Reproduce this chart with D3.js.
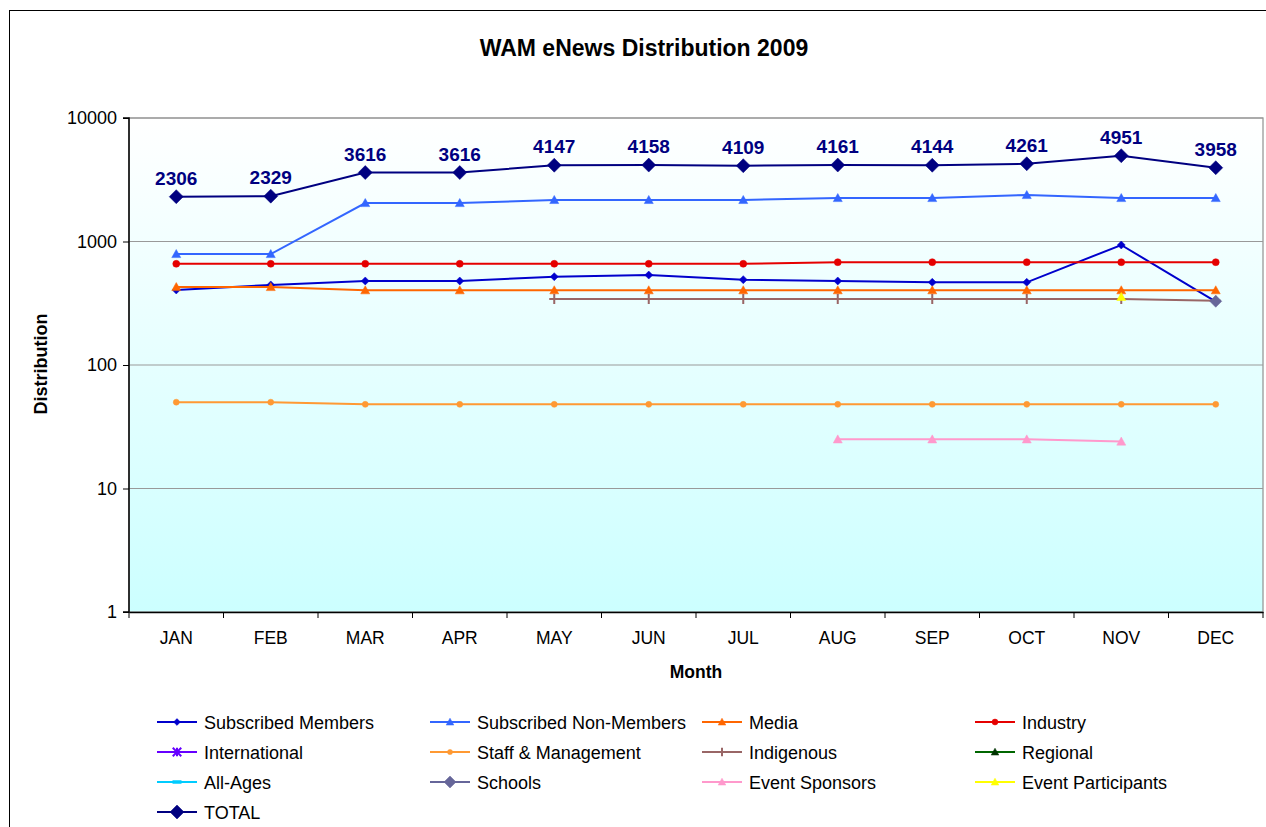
<!DOCTYPE html>
<html>
<head>
<meta charset="utf-8">
<script src="https://cdn.jsdelivr.net/npm/d3@7"></script>
<style>
body { margin: 0; background: #fff; }
svg { font-family: "Liberation Sans", Arial, sans-serif; }
</style>
</head>
<body>
<script>
var months = ["JAN","FEB","MAR","APR","MAY","JUN","JUL","AUG","SEP","OCT","NOV","DEC"];
var N = null;
var subscribedMembers = [405, 445, 479, 479, 519, 535, 491, 479, 467, 467, 937, 326];
var subscribedNonMembers = [792, 792, 2050, 2050, 2170, 2170, 2170, 2250, 2250, 2380, 2250, 2250];
var media = [428, 428, 403, 403, 403, 403, 403, 403, 403, 403, 403, 403];
var industry = [660, 660, 660, 660, 660, 660, 660, 680, 680, 680, 680, 680];
var international = [N, N, N, N, N, N, N, N, N, N, N, N];
var staffManagement = [50, 50, 48, 48, 48, 48, 48, 48, 48, 48, 48, 48];
var indigenous = [N, N, N, N, 342, 342, 342, 342, 342, 342, 342, 332];
var regional = [N, N, N, N, N, N, N, N, N, N, N, N];
var allAges = [N, N, N, N, N, N, N, N, N, N, N, N];
var schools = [N, N, N, N, N, N, N, N, N, N, N, 328];
var eventSponsors = [N, N, N, N, N, N, N, 25, 25, 25, 24, N];
var eventParticipants = [N, N, N, N, N, N, N, N, N, N, 356, N];
var total = [2306, 2329, 3616, 3616, 4147, 4158, 4109, 4161, 4144, 4261, 4951, 3958];
var yTicks = [1, 10, 100, 1000, 10000];

var series = [
    {name: "Subscribed Members", values: subscribedMembers, color: "#0000CC", mark: "diamond", size: 4},
    {name: "Subscribed Non-Members", values: subscribedNonMembers, color: "#3366FF", mark: "triangle", size: 4.5},
    {name: "Media", values: media, color: "#FF6600", mark: "triangle", size: 4.5},
    {name: "Industry", values: industry, color: "#E50000", mark: "circle", size: 3.5},
    {name: "International", values: international, color: "#6600FF", mark: "star", size: 5},
    {name: "Staff & Management", values: staffManagement, color: "#FF9933", mark: "circle", size: 3},
    {name: "Indigenous", values: indigenous, color: "#996666", mark: "plus", size: 5},
    {name: "Regional", values: regional, color: "#006600", mark: "triangle", size: 4.5, fill: "#003300"},
    {name: "All-Ages", values: allAges, color: "#00CCFF", mark: "dash", size: 5},
    {name: "Schools", values: schools, color: "#666699", mark: "diamond", size: 6},
    {name: "Event Sponsors", values: eventSponsors, color: "#FF99CC", mark: "triangle", size: 4.5},
    {name: "Event Participants", values: eventParticipants, color: "#FFFF00", mark: "triangle", size: 4.5},
    {name: "TOTAL", values: total, color: "#000080", mark: "diamond", size: 7, width: 2}
];

var width = 1266, height = 827;
var plot = {left: 129, right: 1263, top: 118, bottom: 612};

var svg = d3.select("body").append("svg")
    .attr("width", width)
    .attr("height", height);

// chart frame
svg.append("rect")
    .attr("x", 9.5).attr("y", 10.5)
    .attr("width", width + 20).attr("height", height + 20)
    .attr("fill", "#fff").attr("stroke", "#000").attr("stroke-width", 1);

var defs = svg.append("defs");
var grad = defs.append("linearGradient")
    .attr("id", "bg").attr("x1", 0).attr("y1", 0).attr("x2", 0).attr("y2", 1);
grad.append("stop").attr("offset", "0%").attr("stop-color", "#ffffff");
grad.append("stop").attr("offset", "100%").attr("stop-color", "#ccffff");

var x = d3.scaleBand().domain(months).range([plot.left, plot.right]);
var y = d3.scaleLog().domain([1, 10000]).range([plot.bottom, plot.top]);
function cx(d, i) { return x(months[i]) + x.bandwidth() / 2; }

svg.append("rect")
    .attr("x", plot.left).attr("y", plot.top)
    .attr("width", plot.right - plot.left).attr("height", plot.bottom - plot.top)
    .attr("fill", "url(#bg)")
    .attr("stroke", "#999").attr("stroke-width", 1.3);

// gridlines
svg.append("g").selectAll("line")
    .data(yTicks.slice(1))
    .enter().append("line")
        .attr("x1", plot.left).attr("x2", plot.right)
        .attr("y1", function(d){ return y(d); })
        .attr("y2", function(d){ return y(d); })
        .attr("stroke", "#999").attr("stroke-width", 1.2);

// axes
var yAxis = svg.append("g")
    .attr("transform", "translate(" + plot.left + ",0)")
    .call(d3.axisLeft(y).tickValues(yTicks).tickFormat(d3.format("d")).tickSize(6).tickPadding(6));
var xAxis = svg.append("g")
    .attr("transform", "translate(0," + plot.bottom + ")")
    .call(d3.axisBottom(x).tickSize(0).tickPadding(20));
xAxis.selectAll(".tick").append("line")
    .attr("x1", -x.bandwidth() / 2).attr("x2", -x.bandwidth() / 2)
    .attr("y1", 0).attr("y2", 6).attr("stroke", "#000");
xAxis.append("line")
    .attr("x1", plot.right).attr("x2", plot.right)
    .attr("y1", 0).attr("y2", 6).attr("stroke", "#000");
[yAxis, xAxis].forEach(function(a){
    a.select(".domain").attr("stroke", "#000").attr("stroke-width", 1.5);
    a.selectAll("text").style("font-size", "17.5px").attr("fill", "#000")
        .style("font-family", "'Liberation Sans', Arial, sans-serif");
});
yAxis.selectAll("text").style("font-size", "18px");
yAxis.select(".domain").attr("d", "M-6," + plot.bottom + "H0V" + plot.top + "H-6");

// titles
svg.append("text")
    .attr("x", 644).attr("y", 56)
    .attr("text-anchor", "middle")
    .style("font-size", "23px").style("font-weight", "bold")
    .text("WAM eNews Distribution 2009");
svg.append("text")
    .attr("x", 696).attr("y", 678)
    .attr("text-anchor", "middle")
    .style("font-size", "17.5px").style("font-weight", "bold")
    .text("Month");
svg.append("text")
    .attr("transform", "translate(47,364) rotate(-90)")
    .attr("text-anchor", "middle")
    .style("font-size", "18px").style("font-weight", "bold")
    .text("Distribution");

function markerPath(mark, s) {
    if (mark === "diamond") return "M0," + (-s) + "L" + s + ",0L0," + s + "L" + (-s) + ",0Z";
    if (mark === "triangle") return "M0," + (-s) + "L" + s + "," + (s * 0.8) + "L" + (-s) + "," + (s * 0.8) + "Z";
    if (mark === "plus") return "M" + (-s) + ",0H" + s + "M0," + (-s) + "V" + s;
    if (mark === "star") return "M" + (-s) + "," + (-s) + "L" + s + "," + s + "M" + (-s) + "," + s + "L" + s + "," + (-s) + "M0," + (-s) + "V" + s;
    if (mark === "dash") return "M" + (-s) + ",-1.5H" + s + "V1.5H" + (-s) + "Z";
    return d3.symbol(d3.symbolCircle, Math.PI * s * s)();
}
function drawMarker(g, s, px, py, scale) {
    var sz = s.size * (scale || 1);
    var open = s.mark === "plus" || s.mark === "star";
    g.append("path")
        .attr("transform", "translate(" + px + "," + py + ")")
        .attr("d", markerPath(s.mark, sz))
        .attr("fill", open ? "none" : (s.fill || s.color))
        .attr("stroke", s.fill || s.color)
        .attr("stroke-width", open ? 2 : 0.5);
}

var line = d3.line()
    .defined(function(d){ return d !== null; })
    .x(cx)
    .y(function(d){ return y(d); });

var lines = svg.append("g");
series.forEach(function(s){
    var g = lines.append("g");
    g.append("path")
        .attr("d", line(s.values))
        .attr("fill", "none")
        .attr("stroke", s.color)
        .attr("stroke-width", s.width || 2);
    s.values.forEach(function(v, i){
        if (v === null) return;
        drawMarker(g, s, cx(v, i), y(v));
    });
});

// data labels for TOTAL
svg.append("g").selectAll("text")
    .data(total)
    .enter().append("text")
        .attr("x", cx)
        .attr("y", function(d){ return y(d) - 12; })
        .attr("text-anchor", "middle")
        .attr("fill", "#000080")
        .style("font-size", "19px").style("font-weight", "bold")
        .text(function(d){ return d; });

// legend
var legCols = [157, 430, 702, 975];
var legend = svg.append("g");
series.forEach(function(s, i){
    var lx = legCols[i % 4];
    var ly = 722 + Math.floor(i / 4) * 30;
    var g = legend.append("g");
    g.append("line")
        .attr("x1", lx).attr("x2", lx + 40)
        .attr("y1", ly).attr("y2", ly)
        .attr("stroke", s.color).attr("stroke-width", s.width || 2);
    drawMarker(g, s, lx + 20, ly, s.mark === "diamond" && s.size > 5 ? 1 : 0.85);
    g.append("text")
        .attr("x", lx + 47).attr("y", ly + 6.5)
        .style("font-size", "18px")
        .text(s.name);
});
</script>
</body>
</html>
